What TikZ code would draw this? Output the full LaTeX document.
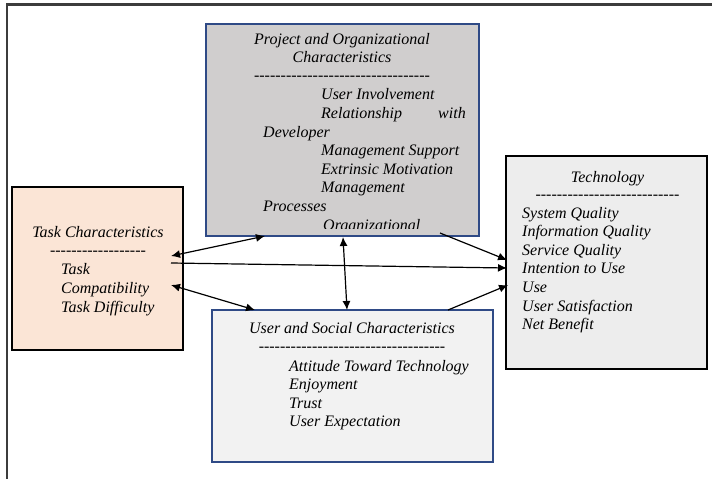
\documentclass[tikz,border=0pt]{standalone}
\usepackage{fontspec}
\setmainfont{Liberation Serif}[Ligatures=TeXOff]
\usetikzlibrary{arrows.meta}
\definecolor{projfill}{HTML}{D0CECE}
\definecolor{taskfill}{HTML}{FBE5D6}
\definecolor{techfill}{HTML}{EDEDED}
\definecolor{userfill}{HTML}{F2F2F2}
\definecolor{boxblue}{HTML}{2F4A86}
\definecolor{framegray}{HTML}{3C3C3C}
\begin{document}
\begin{tikzpicture}[x=1pt,y=-1pt,
  txt/.style={anchor=base west, inner sep=0pt, font=\fontsize{16}{18.6}\selectfont\itshape},
  ctxt/.style={anchor=base, inner sep=0pt, font=\fontsize{16}{18.6}\selectfont\itshape},
  etxt/.style={anchor=base east, inner sep=0pt, font=\fontsize{16}{18.6}\selectfont\itshape},
  boxbase/.style={anchor=north west, inner sep=0pt, outer sep=0pt},
  bluebox/.style={boxbase, draw=boxblue, line width=1.1pt},
  blackbox/.style={boxbase, draw=black, line width=2.6pt},
  framestyle/.style={draw=framegray, line width=2.4pt},
  arr/.style={line width=1.2pt, -{Latex[length=9pt,width=8pt]}},
  darr/.style={line width=1.2pt, {Latex[length=9pt,width=8pt]}-{Latex[length=9pt,width=8pt]}}]
\useasboundingbox[fill=white] (0,0) rectangle (712,479);

% outer frame
\draw[framestyle] (7,479) -- (7,4.5) -- (712,4.5);

% boxes
\node[bluebox, fill=projfill, minimum width=273pt, minimum height=212pt] (proj) at (206,24) {};
\node[blackbox, fill=taskfill, minimum width=171pt, minimum height=163pt] (task) at (12,187) {};
\node[blackbox, fill=techfill, minimum width=201pt, minimum height=213pt] (tech) at (506,156) {};
\node[bluebox, fill=userfill, minimum width=281pt, minimum height=152pt] (user) at (212,310) {};

% project text
\begin{scope}
\clip (206,24) rectangle (479,228);
\node[ctxt] (p1) at (342,44) {Project and Organizational};
\node[ctxt] (p2) at (342,62.6) {Characteristics};
\node[ctxt] (p3) at (342,80.5) {---------------------------------};
\node[txt] (p4) at (321,99.8) {User Involvement};
\node[txt] (p5) at (321,118.4) {Relationship};
\node[etxt] (p5b) at (466,118.4) {with};
\node[txt] (p6) at (263,137) {Developer};
\node[txt] (p7) at (321,155.6) {Management Support};
\node[txt] (p8) at (321,174.2) {Extrinsic Motivation};
\node[txt] (p9) at (321,192.8) {Management};
\node[txt] (p10) at (263,211.4) {Processes};
\node[txt] (p11) at (323,230) {Organizational};
\end{scope}

% task text
\node[ctxt] (t1) at (98,237) {Task Characteristics};
\node[ctxt] (t2) at (98,255) {------------------};
\node[txt] (t3) at (61,274) {Task};
\node[txt] (t4) at (61,293) {Compatibility};
\node[txt] (t5) at (61,312) {Task Difficulty};

% technology text
\node[ctxt] (g1) at (607.5,182) {Technology};
\node[ctxt] (g2) at (607.5,199.5) {---------------------------};
\node[txt] (g3) at (522,218) {System Quality};
\node[txt] (g4) at (522,236.6) {Information Quality};
\node[txt] (g5) at (522,255.2) {Service Quality};
\node[txt] (g6) at (522,273.8) {Intention to Use};
\node[txt] (g7) at (522,292.4) {Use};
\node[txt] (g8) at (522,311) {User Satisfaction};
\node[txt] (g9) at (522,329.6) {Net Benefit};

% user text
\node[ctxt] (u1) at (352,333) {User and Social Characteristics};
\node[ctxt] (u2) at (352,351.5) {-----------------------------------};
\node[txt] (u3) at (289,371) {Attitude Toward Technology};
\node[txt] (u4) at (289,389.6) {Enjoyment};
\node[txt] (u5) at (289,408.2) {Trust};
\node[txt] (u6) at (289,426.8) {User Expectation};

% connector end points
\coordinate (taskA) at (171,256);
\coordinate (projA) at (265,236);
\coordinate (taskB) at (171,285);
\coordinate (userB) at (255,310);
\coordinate (taskC) at (171,263);
\coordinate (techC) at (507,268);
\coordinate (projD) at (440,233);
\coordinate (techD) at (507,260);
\coordinate (userE) at (448,310);
\coordinate (techE) at (508,285);
\coordinate (projF) at (343,237);
\coordinate (userF) at (347,310);

\draw[darr] (taskA) -- (projA);
\draw[darr] (taskB) -- (userB);
\draw[arr] (taskC) -- (techC);
\draw[arr] (projD) -- (techD);
\draw[arr] (userE) -- (techE);
\draw[darr] (projF) -- (userF);
\end{tikzpicture}
\end{document}
